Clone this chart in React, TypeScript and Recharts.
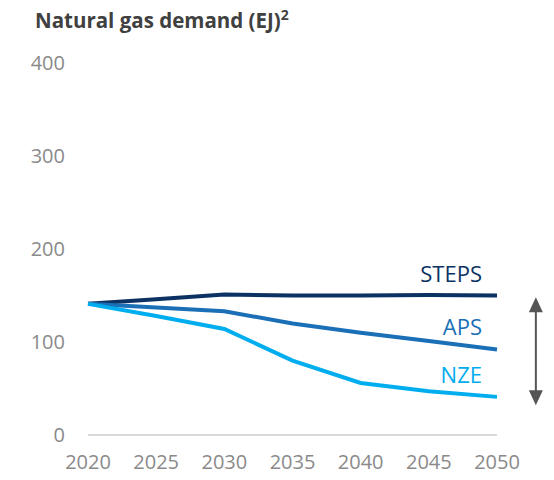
import { LineChart, Line, XAxis, YAxis, ReferenceLine } from 'recharts';

// Natural gas demand (EJ) by scenario
const years = [2020, 2025, 2030, 2035, 2040, 2045, 2050];
const steps = [141, 146, 151, 150, 150, 150.5, 150];
const aps = [141, 137, 133, 120, 110, 101, 92];
const nze = [141, 128, 114, 80, 56, 47, 41];
const yTicks = [0, 100, 200, 300, 400];

const data = years.map((year, i) => ({ year, steps: steps[i], aps: aps[i], nze: nze[i] }));

const FONT = '"Open Sans", "Noto Sans", sans-serif';

const endLabel = (text: string, color: string) => (props: any) => {
  const { x, y, index } = props;
  if (index !== years.length - 1) return null;
  return (
    <text x={x - 15} y={y - 14} textAnchor="end" fill={color} fontSize={22} fontFamily={FONT}>
      {text}
    </text>
  );
};

const Arrow = (props: any) => {
  const { x1, y1, y2 } = props;
  const top = Math.min(y1, y2);
  const bottom = Math.max(y1, y2);
  const c = '#555555';
  return (
    <g>
      <line x1={x1} y1={top + 10} x2={x1} y2={bottom - 10} stroke={c} strokeWidth={2} />
      <polygon points={`${x1},${top} ${x1 - 7},${top + 15} ${x1 + 7},${top + 15}`} fill={c} />
      <polygon points={`${x1},${bottom} ${x1 - 7},${bottom - 15} ${x1 + 7},${bottom - 15}`} fill={c} />
    </g>
  );
};

export default function App() {
  return (
    <div style={{ position: 'absolute', left: 0, top: 0, width: 554, height: 480, background: '#fff' }}>
      <div
        style={{
          position: 'absolute',
          left: 35,
          top: 5,
          fontFamily: FONT,
          fontWeight: 700,
          fontSize: 20.5,
          color: '#404040',
          whiteSpace: 'nowrap',
        }}
      >
        Natural gas demand (EJ)<sup style={{ fontSize: 14 }}>2</sup>
      </div>
      <LineChart width={554} height={480} data={data} margin={{ top: 63, right: 57, bottom: 0, left: 0 }}>
        <XAxis
          dataKey="year"
          type="number"
          domain={[2020, 2050]}
          ticks={years}
          tickLine={false}
          axisLine={{ stroke: '#d9d9d9', strokeWidth: 2 }}
          tick={{ fill: '#8a8a8a', fontSize: 20, fontFamily: FONT }}
          tickMargin={14}
          height={45}
        />
        <YAxis
          type="number"
          domain={[0, 400]}
          ticks={yTicks}
          width={88}
          axisLine={false}
          tickLine={false}
          tick={{ fill: '#8a8a8a', fontSize: 20, fontFamily: FONT }}
          tickMargin={17}
        />
        <ReferenceLine
          segment={[{ x: 2052.85, y: 148 }, { x: 2052.85, y: 32 }]}
          ifOverflow="visible"
          shape={Arrow}
        />
        <Line dataKey="steps" stroke="#0b3262" strokeWidth={4} dot={false} isAnimationActive={false} label={endLabel('STEPS', '#0b3262')} />
        <Line dataKey="aps" stroke="#1b6fb6" strokeWidth={4} dot={false} isAnimationActive={false} label={endLabel('APS', '#1b6fb6')} />
        <Line dataKey="nze" stroke="#00adef" strokeWidth={4} dot={false} isAnimationActive={false} label={endLabel('NZE', '#00adef')} />
      </LineChart>
    </div>
  );
}
